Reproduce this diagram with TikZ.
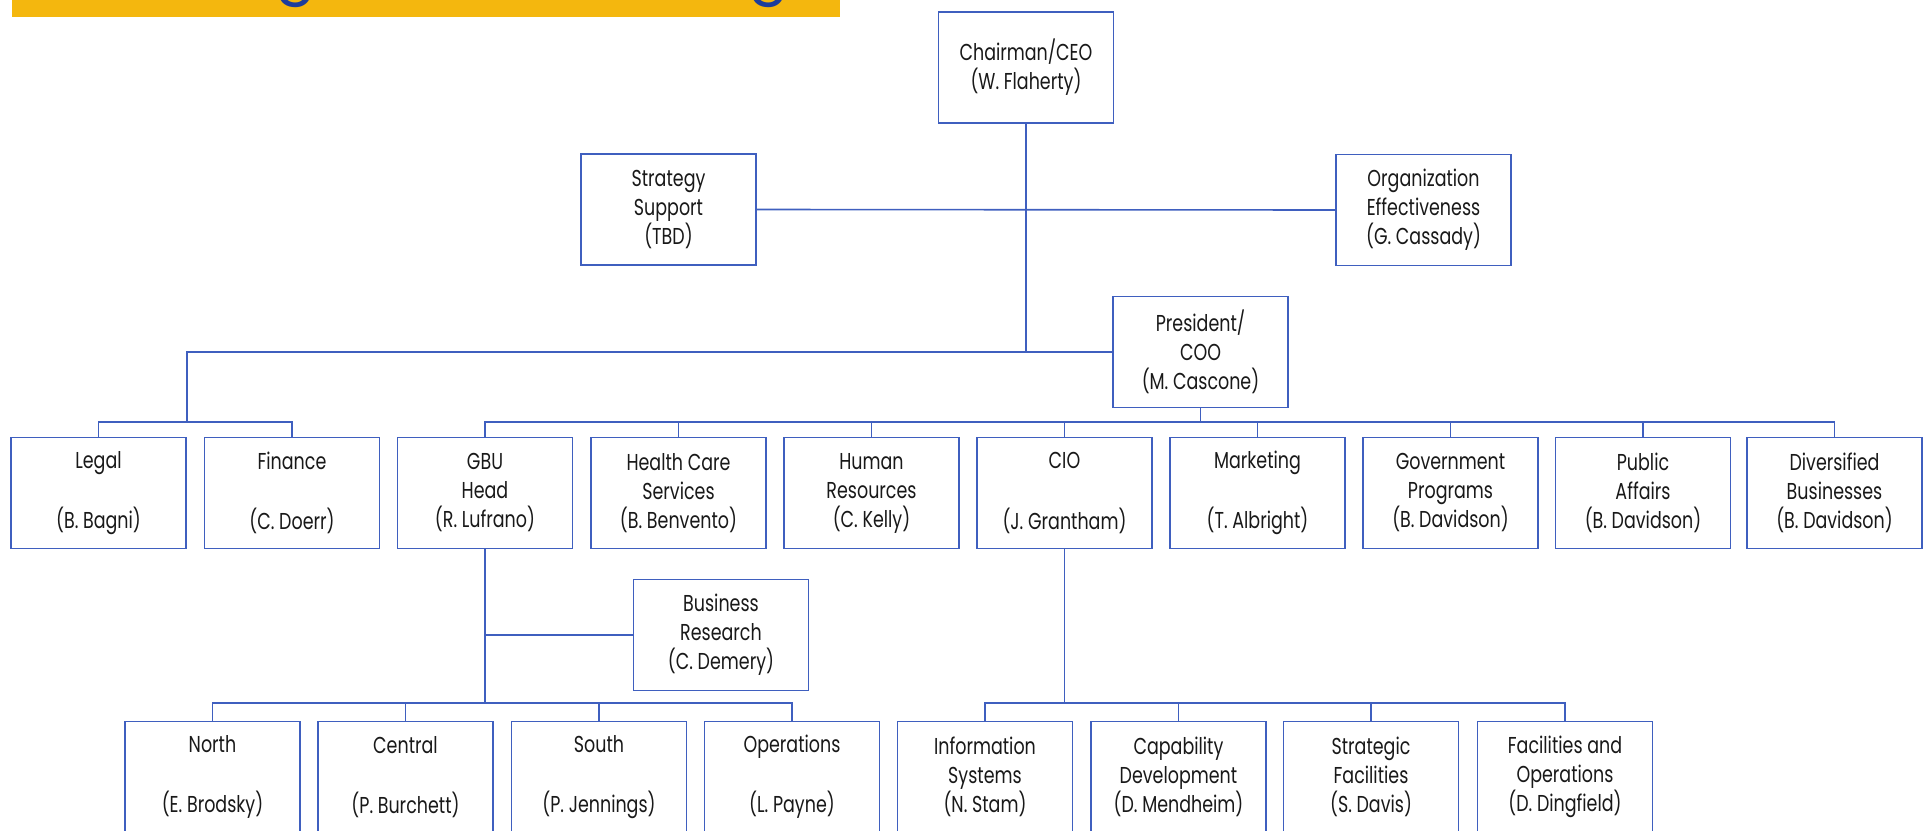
\documentclass[tikz,border=0pt]{standalone}
\usepackage{fontspec}
\setmainfont{Poppins}[FakeStretch=0.76]
\newfontfamily\titlefont{Poppins}
\definecolor{chartblue}{HTML}{3F5FBF}
\definecolor{bargold}{HTML}{F4B70E}
\definecolor{titleblue}{HTML}{1C3D9C}

\begin{document}
\begin{tikzpicture}[x=1pt,y=-1pt,
  box/.style={draw=chartblue, line width=1.8pt, fill=white, minimum width=175pt, minimum height=111pt,
    inner sep=0pt, align=center, font=\fontsize{23}{29}\selectfont, text=black!90},
  link/.style={chartblue, line width=1.6pt}]
\useasboundingbox (0,0) rectangle (1927,830);
\clip (0,0) rectangle (1927,830);
\fill[bargold] (12,-5) rectangle (840,17);
\node[titleblue, font=\titlefont\fontsize{60}{60}\selectfont, anchor=base] (g1) at (296,-9) {g};
\node[titleblue, font=\titlefont\fontsize{60}{60}\selectfont, anchor=base] (g2) at (769,-9) {g};
\node[box] (chair) at (1026,67.5) {Chairman/CEO\\(W. Flaherty)};
\node[box] (strat) at (668.5,209.5) {Strategy\\Support\\(TBD)};
\node[box] (orgeff) at (1423.5,210) {Organization\\Effectiveness\\(G. Cassady)};
\node[box] (pres) at (1200.5,352) {President/\\COO\\(M. Cascone)};
\node[box] (legal) at (98.5,493) {Legal\\\strut\\(B. Bagni)};
\node[box] (finance) at (292,493) {Finance\\\strut\\(C. Doerr)};
\node[box] (gbu) at (485,493) {GBU\\Head\\(R. Lufrano)};
\node[box] (health) at (678.5,493) {Health Care\\Services\\(B. Benvento)};
\node[box] (human) at (871.5,493) {Human\\Resources\\(C. Kelly)};
\node[box] (cio) at (1064.5,493) {CIO\\\strut\\(J. Grantham)};
\node[box] (marketing) at (1257.5,493) {Marketing\\\strut\\(T. Albright)};
\node[box] (gov) at (1450.5,493) {Government\\Programs\\(B. Davidson)};
\node[box] (public) at (1643,493) {Public\\Affairs\\(B. Davidson)};
\node[box] (divers) at (1834.5,493) {Diversified\\Businesses\\(B. Davidson)};
\node[box] (busres) at (721,635) {Business\\Research\\(C. Demery)};
\node[box] (north) at (212.5,777) {North\\\strut\\(E. Brodsky)};
\node[box] (central) at (405.5,777) {Central\\\strut\\(P. Burchett)};
\node[box] (south) at (599,777) {South\\\strut\\(P. Jennings)};
\node[box] (ops) at (792,777) {Operations\\\strut\\(L. Payne)};
\node[box] (infosys) at (985,777) {Information\\Systems\\(N. Stam)};
\node[box] (capab) at (1178.5,777) {Capability\\Development\\(D. Mendheim)};
\node[box] (stratfac) at (1371,777) {Strategic\\Facilities\\(S. Davis)};
\node[box] (facil) at (1565,777) {Facilities and\\Operations\\(D. Dingfield)};
% bus lines
\coordinate (legbus) at (187,422);
\coordinate (busA) at (0,422);
\coordinate (busB) at (0,703);
\draw[link] (chair.south) |- (pres.west);
\draw[link] (strat.east) -- (orgeff.west);
\draw[link] (chair.south |- pres.west) -| (legbus);
\draw[link] (legal.north) |- (legbus) -| (finance.north);
\draw[link] (gbu.north) |- (busA -| divers.north) -- (divers.north);
\foreach \n in {pres.south,health.north,human.north,cio.north,marketing.north,gov.north,public.north}
  \draw[link] (\n) -- (\n |- busA);
\draw[link] (gbu.south) -- (gbu.south |- busB);
\draw[link] (busres.west) -- (busres.west -| gbu.south);
\draw[link] (north.north) |- (busB -| ops.north) -- (ops.north);
\foreach \n in {central,south}
  \draw[link] (\n.north) -- (\n.north |- busB);
\draw[link] (cio.south) -- (cio.south |- busB);
\draw[link] (infosys.north) |- (busB -| facil.north) -- (facil.north);
\foreach \n in {capab,stratfac}
  \draw[link] (\n.north) -- (\n.north |- busB);
\end{tikzpicture}
\end{document}
